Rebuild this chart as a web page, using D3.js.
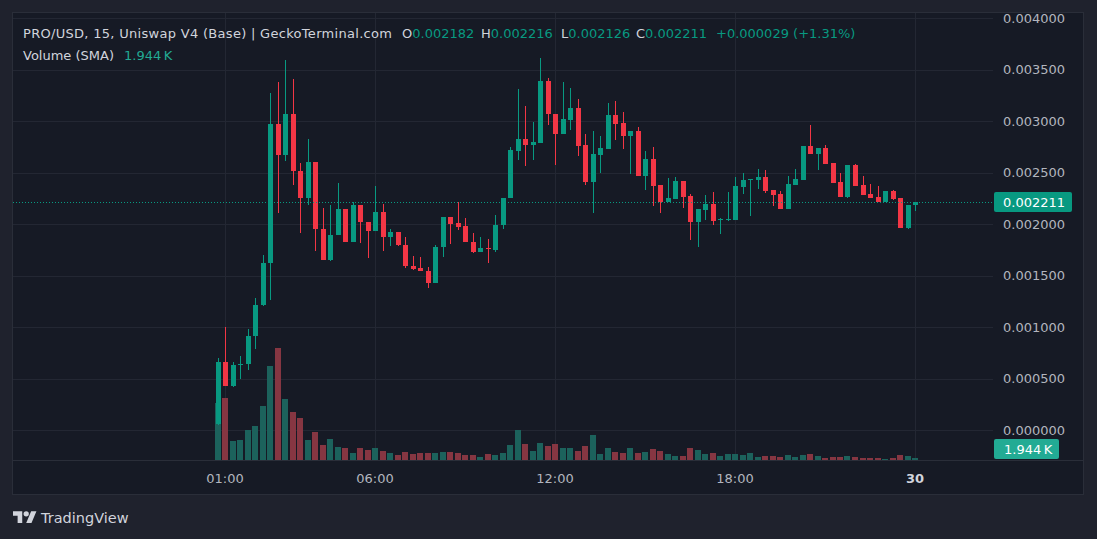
<!DOCTYPE html>
<html><head><meta charset="utf-8">
<script src="https://cdn.jsdelivr.net/npm/d3@7"></script>
<style>html,body{margin:0;padding:0;background:#1f222d;} svg{display:block;font-family:"DejaVu Sans",sans-serif;}</style>
</head><body><svg id="c" width="1097" height="539"></svg>
<script>
// ---- data (15-minute candles, PRO/USD) ----
const startTime = "2025-03-29T00:45:00";
const open  = [0.00006,0.00066,0.00043,0.00063,0.00064,0.00091,0.00121,0.00162,0.00297,0.00267,
               0.00307,0.00251,0.00225,0.00260,0.00195,0.00165,0.00189,0.00215,0.00183,0.00218,
               0.00202,0.00193,0.00212,0.00187,0.00192,0.00180,0.00159,0.00157,0.00154,0.00143,
               0.00178,0.00207,0.00201,0.00198,0.00183,0.00173,0.00177,0.00175,0.00199,0.00225,
               0.00271,0.00283,0.00277,0.00279,0.00339,0.00307,0.00287,0.00301,0.00313,0.00277,
               0.00241,0.00267,0.00273,0.00306,0.00298,0.00285,0.00290,0.00247,0.00263,0.00238,
               0.00221,0.00224,0.00242,0.00227,0.00202,0.00214,0.00219,0.00204,0.00205,0.00204,
               0.00236,0.00243,0.00243,0.00246,0.00233,0.00229,0.00215,0.00238,0.00243,0.00276,
               0.00268,0.00274,0.00259,0.00241,0.00226,0.00257,0.00238,0.00229,0.00226,0.00221,
               0.00232,0.00225,0.00196,0.002182];
const high  = [0.00070,0.00100,0.00066,0.00072,0.00098,0.00128,0.00170,0.00327,0.00338,0.00359,
               0.00341,0.00259,0.00283,0.00260,0.00216,0.00218,0.00240,0.00215,0.00221,0.00218,
               0.00202,0.00237,0.00219,0.00195,0.00192,0.00187,0.00169,0.00168,0.00158,0.00180,
               0.00207,0.00207,0.00221,0.00206,0.00191,0.00187,0.00185,0.00209,0.00225,0.00275,
               0.00331,0.00315,0.00299,0.00361,0.00342,0.00307,0.00338,0.00332,0.00321,0.00287,
               0.00290,0.00285,0.00317,0.00319,0.00309,0.00290,0.00294,0.00271,0.00275,0.00238,
               0.00245,0.00246,0.00242,0.00229,0.00215,0.00228,0.00231,0.00206,0.00231,0.00246,
               0.00250,0.00244,0.00253,0.00252,0.00233,0.00232,0.00247,0.00253,0.00276,0.00296,
               0.00274,0.00277,0.00259,0.00250,0.00257,0.00258,0.00247,0.00239,0.00237,0.00232,
               0.00233,0.00225,0.00218,0.002216];
const low   = [0.00005,0.00043,0.00042,0.00050,0.00058,0.00079,0.00120,0.00126,0.00211,0.00261,
               0.00238,0.00191,0.00218,0.00174,0.00165,0.00164,0.00189,0.00183,0.00183,0.00182,
               0.00167,0.00193,0.00174,0.00179,0.00179,0.00157,0.00155,0.00154,0.00138,0.00143,
               0.00168,0.00181,0.00194,0.00183,0.00172,0.00173,0.00162,0.00173,0.00195,0.00225,
               0.00262,0.00256,0.00262,0.00279,0.00296,0.00257,0.00287,0.00291,0.00266,0.00238,
               0.00211,0.00250,0.00273,0.00282,0.00273,0.00249,0.00247,0.00233,0.00217,0.00211,
               0.00221,0.00224,0.00216,0.00184,0.00178,0.00204,0.00199,0.00190,0.00203,0.00204,
               0.00229,0.00208,0.00234,0.00230,0.00217,0.00215,0.00215,0.00238,0.00243,0.00268,
               0.00252,0.00258,0.00240,0.00226,0.00225,0.00237,0.00228,0.00225,0.00221,0.00221,
               0.00223,0.00196,0.00195,0.002126];
const close = [0.00066,0.00043,0.00063,0.00064,0.00091,0.00121,0.00162,0.00297,0.00267,0.00307,
               0.00251,0.00225,0.00260,0.00195,0.00165,0.00189,0.00215,0.00183,0.00218,0.00202,
               0.00193,0.00212,0.00187,0.00192,0.00180,0.00159,0.00156,0.00154,0.00143,0.00178,
               0.00207,0.00200,0.00197,0.00183,0.00173,0.00177,0.00176,0.00199,0.00225,0.00272,
               0.00283,0.00277,0.00280,0.00339,0.00307,0.00287,0.00302,0.00313,0.00276,0.00241,
               0.00268,0.00274,0.00306,0.00297,0.00285,0.00290,0.00247,0.00263,0.00237,0.00221,
               0.00225,0.00242,0.00226,0.00202,0.00215,0.00219,0.00203,0.00205,0.00205,0.00237,
               0.00243,0.00244,0.00246,0.00232,0.00228,0.00215,0.00239,0.00244,0.00276,0.00268,
               0.00274,0.00258,0.00240,0.00226,0.00257,0.00237,0.00228,0.00225,0.00221,0.00232,
               0.00224,0.00196,0.00218,0.002211];
// volume in thousands of USD
const volume = [55.4,60.3,18.5,19.4,29.2,33.0,52.5,91.4,108.9,59.3,
                46.7,40.8,19.4,27.2,14.6,20.4,12.6,11.7,6.8,11.7,
                9.7,11.7,8.7,6.8,4.9,7.8,5.8,6.8,6.8,6.8,
                7.8,7.8,6.8,4.9,4.9,2.9,5.8,4.9,6.8,14.6,
                29.2,15.6,8.7,16.5,13.6,15.6,11.7,11.7,8.7,13.6,
                24.3,5.8,11.7,7.8,6.8,11.7,6.8,7.8,10.7,8.7,
                5.8,3.9,3.9,11.7,9.7,5.8,6.8,3.9,5.8,5.8,
                4.9,6.8,2.9,3.9,3.9,2.9,4.9,2.9,4.9,5.8,
                3.9,1.9,2.9,2.9,3.9,2.9,1.9,1.9,1.9,1.0,
                1.9,4.9,3.9,1.944];
const priceTicks = [0,0.0005,0.001,0.0015,0.002,0.0025,0.003,0.0035,0.004];
const timeTicks = ["2025-03-29T01:00:00","2025-03-29T06:00:00","2025-03-29T12:00:00","2025-03-29T18:00:00","2025-03-30T00:00:00"];
const timeTickLabels = ["01:00","06:00","12:00","18:00","30"];
const lastPrice = 0.002211;
const volumeSMALabel = "1.944\u2009K";
const titleText = "PRO/USD, 15, Uniswap V4 (Base) | GeckoTerminal.com";
const ohlcLabels = ["O","H","L","C"];
const ohlcValues = ["0.002182","0.002216","0.002126","0.002211"];
const changeText = "+0.000029 (+1.31%)";

// ---- styles ----
const UP = "#089981", DOWN = "#f23645";
const VUP = "#1c625c", VDOWN = "#863642";
const GRID = "#232733";
const TXT = "#b2b5be";

const svg = d3.select("#c");
const fmtTime = d3.timeParse("%Y-%m-%dT%H:%M:%S");
const t0 = fmtTime(startTime);
const times = open.map((_, i) => new Date(t0.getTime() + i * 15 * 60000));

const x = d3.scaleTime().domain([times[0], times[times.length - 1]]).range([217.5, 915]);
const y = d3.scaleLinear().domain([0, 0.004]).range([430, 18]);
const yv = d3.scaleLinear().domain([0, d3.max(volume)]).range([460, 348]);

const L = 12, R = 1084, T = 12, PB = 460, B = 495, AX = 993;

// panel
svg.append("rect").attr("x", L + 0.5).attr("y", T + 0.5).attr("width", R - L - 1).attr("height", B - T - 1)
  .attr("fill", "#161a25").attr("stroke", "#2a2e39");

// grid
const g = svg.append("g").attr("shape-rendering", "crispEdges");
g.selectAll("line.h").data(priceTicks).join("line")
  .attr("x1", L + 1).attr("x2", AX)
  .attr("y1", d => Math.round(y(d)) + 0.5).attr("y2", d => Math.round(y(d)) + 0.5)
  .attr("stroke", GRID);
g.selectAll("line.v").data(timeTicks.map(fmtTime)).join("line")
  .attr("y1", T + 1).attr("y2", PB)
  .attr("x1", d => Math.round(x(d)) + 0.5).attr("x2", d => Math.round(x(d)) + 0.5)
  .attr("stroke", GRID);
// pane / time-axis separator
svg.append("line").attr("x1", L + 1).attr("x2", R - 1).attr("y1", PB + 0.5).attr("y2", PB + 0.5)
  .attr("stroke", "#2a2e39");

// volume bars
const vol = svg.append("g").attr("shape-rendering", "crispEdges");
vol.selectAll("rect").data(volume).join("rect")
  .attr("x", (d, i) => Math.round(x(times[i])) - 3)
  .attr("width", 6)
  .attr("y", d => yv(d))
  .attr("height", d => PB - yv(d))
  .attr("fill", (d, i) => close[i] >= open[i] ? VUP : VDOWN);

// candles
const cg = svg.append("g").attr("shape-rendering", "crispEdges");
const idx = d3.range(open.length);
cg.selectAll("rect.w").data(idx).join("rect")
  .attr("x", i => Math.round(x(times[i])))
  .attr("width", 1)
  .attr("y", i => y(high[i]))
  .attr("height", i => Math.max(1, y(low[i]) - y(high[i])))
  .attr("fill", i => close[i] >= open[i] ? UP : DOWN);
cg.selectAll("rect.b").data(idx).join("rect")
  .attr("x", i => Math.round(x(times[i])) - 2)
  .attr("width", 5)
  .attr("y", i => y(Math.max(open[i], close[i])))
  .attr("height", i => Math.max(1, Math.abs(y(open[i]) - y(close[i]))))
  .attr("fill", i => close[i] >= open[i] ? UP : DOWN);

// last price dotted line
svg.append("line").attr("x1", L + 1).attr("x2", AX)
  .attr("y1", Math.round(y(lastPrice)) + 0.5).attr("y2", Math.round(y(lastPrice)) + 0.5)
  .attr("stroke", UP).attr("stroke-dasharray", "1,2");

// price axis labels
svg.append("g").selectAll("text").data(priceTicks).join("text")
  .attr("x", 1003).attr("y", d => y(d)).attr("dy", "0.36em")
  .attr("fill", TXT).attr("font-size", 13)
  .text(d => d3.format(".6f")(d));

// last price label
svg.append("rect").attr("x", 994).attr("y", Math.round(y(lastPrice)) - 10).attr("width", 78).attr("height", 20)
  .attr("rx", 2).attr("fill", UP);
svg.append("text").attr("x", 1003).attr("y", y(lastPrice)).attr("dy", "0.36em")
  .attr("fill", "#ffffff").attr("font-size", 13).text(d3.format(".6f")(lastPrice));

// volume SMA label
svg.append("rect").attr("x", 994).attr("y", 439).attr("width", 65).attr("height", 20)
  .attr("rx", 2).attr("fill", "#22ab94");
svg.append("text").attr("x", 1004).attr("y", 449).attr("dy", "0.36em")
  .attr("fill", "#ffffff").attr("font-size", 13).text(volumeSMALabel);

// time axis labels
svg.append("g").selectAll("text").data(timeTicks).join("text")
  .attr("x", d => x(fmtTime(d))).attr("y", 483)
  .attr("text-anchor", "middle").attr("font-size", 13)
  .attr("fill", (d, i) => i === timeTicks.length - 1 ? "#d1d4dc" : TXT)
  .attr("font-weight", (d, i) => i === timeTicks.length - 1 ? "bold" : "normal")
  .text((d, i) => timeTickLabels[i]);

// header legend
svg.append("text").attr("x", 23).attr("y", 38).attr("font-size", 13).attr("fill", "#d1d4dc")
  .attr("textLength", 369).attr("lengthAdjust", "spacing").text(titleText);
const ohlcX = [402, 481, 561, 636];
ohlcLabels.forEach((lab, i) => {
  const t = svg.append("text").attr("x", ohlcX[i]).attr("y", 38).attr("font-size", 13);
  t.append("tspan").attr("fill", "#d1d4dc").text(lab);
  t.append("tspan").attr("fill", UP).text(ohlcValues[i]);
});
svg.append("text").attr("x", 716).attr("y", 38).attr("font-size", 13).attr("fill", UP).text(changeText);
svg.append("text").attr("x", 23).attr("y", 60).attr("font-size", 13).attr("fill", "#d1d4dc").text("Volume (SMA)");
svg.append("text").attr("x", 124).attr("y", 60).attr("font-size", 13).attr("fill", "#22ab94").text(volumeSMALabel);

// TradingView attribution
const logo = svg.append("g").attr("transform", "translate(13,508.5) scale(0.66)").attr("fill", "#d1d4dc");
logo.append("path").attr("d", "M14 22H7V11H0V4h14v18zM28 22h-8l7.5-18h8L28 22z");
logo.append("circle").attr("cx", 20).attr("cy", 8).attr("r", 4);
svg.append("text").attr("x", 41).attr("y", 523).attr("font-size", 14.5).attr("fill", "#d1d4dc").text("TradingView");
</script>
</body></html>
